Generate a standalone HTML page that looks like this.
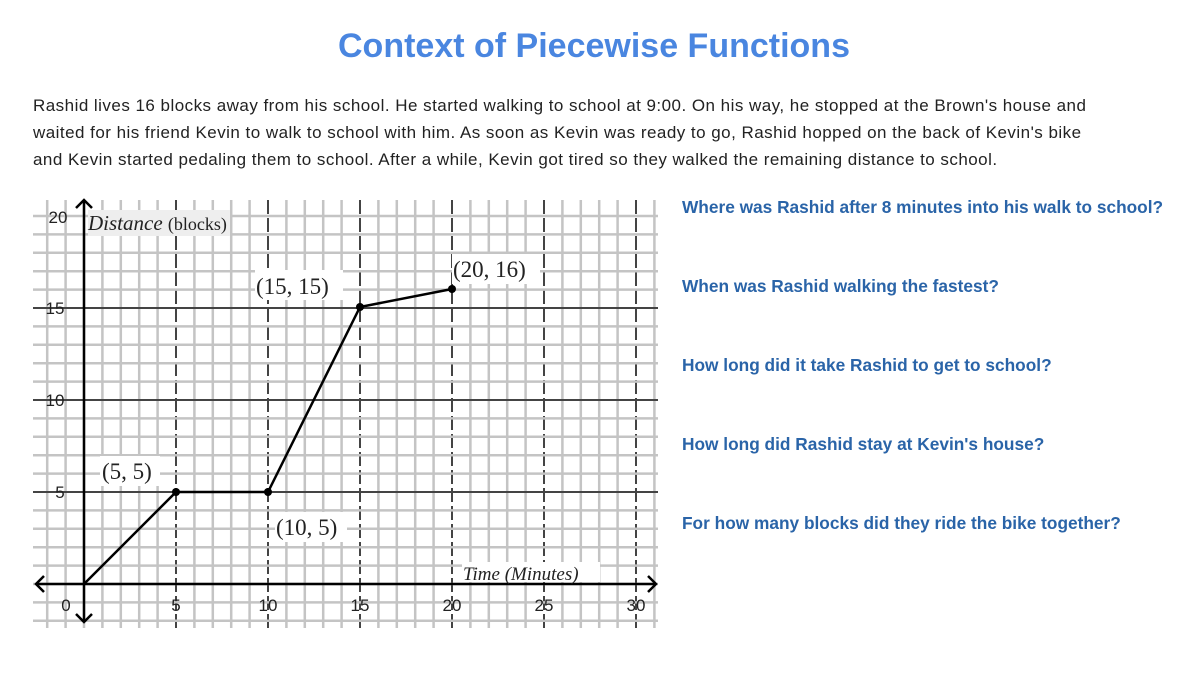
<!DOCTYPE html>
<html><head><meta charset="utf-8"><style>
body{margin:0;width:1200px;height:674px;background:#fff;overflow:hidden;font-family:"Liberation Sans",sans-serif;position:relative}
h1{position:absolute;top:27px;left:338px;margin:0;font-size:34px;color:#4a86e0;font-weight:bold;white-space:nowrap}
.p{position:absolute;left:33px;top:92px;width:1150px;font-size:17px;letter-spacing:0.47px;line-height:27px;color:#222;white-space:nowrap}
.q{position:absolute;left:682px;font-size:17.3px;font-weight:bold;color:#2a64a8;white-space:nowrap}
</style></head><body>
<h1>Context of Piecewise Functions</h1>
<div class="p">Rashid lives 16 blocks away from his school. He started walking to school at 9:00. On his way, he stopped at the Brown's house and<br>waited for his friend Kevin to walk to school with him. As soon as Kevin was ready to go, Rashid hopped on the back of Kevin's bike<br>and Kevin started pedaling them to school. After a while, Kevin got tired so they walked the remaining distance to school.</div>
<div class="q" style="top:197px">Where was Rashid after 8 minutes into his walk to school?</div>
<div class="q" style="top:276px">When was Rashid walking the fastest?</div>
<div class="q" style="top:355px">How long did it take Rashid to get to school?</div>
<div class="q" style="top:434px">How long did Rashid stay at Kevin's house?</div>
<div class="q" style="top:513px">For how many blocks did they ride the bike together?</div>
<svg width="1200" height="674" style="position:absolute;left:0;top:0" id="s">
<g id="g"></g>
<g stroke="#000" stroke-width="2.5" fill="none">
<line x1="84" y1="200" x2="84" y2="622"/><polyline points="76,208 84,200 92,208"/><polyline points="76,614 84,622 92,614"/>
<line x1="36" y1="584" x2="656" y2="584"/><polyline points="44,576 36,584 44,592"/><polyline points="648,576 656,584 648,592"/>
<polyline points="84,584 176,492 268,492 360,307 452,289"/>
</g>
<g fill="#000"><circle cx="176" cy="492" r="4"/><circle cx="268" cy="492" r="4"/><circle cx="360" cy="307" r="4"/><circle cx="452" cy="289" r="4"/></g>
<g font-family="Liberation Sans" font-size="17" fill="#222" text-anchor="middle">
<text x="66" y="611">0</text><text x="176" y="611">5</text><text x="268" y="611">10</text><text x="360" y="611">15</text><text x="452" y="611">20</text><text x="544" y="611">25</text><text x="636" y="611">30</text>
<text x="60" y="498">5</text><text x="55" y="406">10</text><text x="55" y="314">15</text><text x="58" y="223">20</text>
</g>
<g font-family="Liberation Serif" font-size="23" fill="#222">
<rect x="88" y="210" width="142" height="26" fill="#eee"/>
<text x="88" y="230" font-style="italic" font-size="21">Distance <tspan font-style="normal" font-size="18">(blocks)</tspan></text>
<rect x="462" y="562" width="138" height="20" fill="#fff"/>
<text x="463" y="580" font-style="italic" font-size="19">Time (Minutes)</text>
<rect x="100" y="456" width="60" height="30" fill="#fff"/><text x="102" y="479">(5, 5)</text>
<rect x="275" y="512" width="72" height="30" fill="#fff"/><text x="276" y="535">(10, 5)</text>
<rect x="255" y="270" width="88" height="30" fill="#fff"/><text x="256" y="294">(15, 15)</text>
<rect x="452" y="254" width="88" height="30" fill="#fff"/><text x="453" y="277">(20, 16)</text>
</g>
</svg>
<script>
var g=document.getElementById('g'),h='';
for(var k=-3;k<=31;k++){var x=84+18.4*k;if(x<33||x>658)continue;var m=k%5==0&&k>0;
h+='<line x1="'+x+'" y1="200" x2="'+x+'" y2="628" stroke="'+(m?'#444':'#c4c4c4')+'" stroke-width="'+(m?2:2.5)+'"'+(m?' stroke-dasharray="14,4"':'')+'/>';}
for(var k=-2;k<=20;k++){var y=584-18.4*k;var m=k%5==0&&k>0&&k<20;
h+='<line x1="33" y1="'+y+'" x2="658" y2="'+y+'" stroke="'+(m?'#444':'#c4c4c4')+'" stroke-width="'+(m?2:2.5)+'"/>';}
g.innerHTML=h;
</script>
</body></html>
